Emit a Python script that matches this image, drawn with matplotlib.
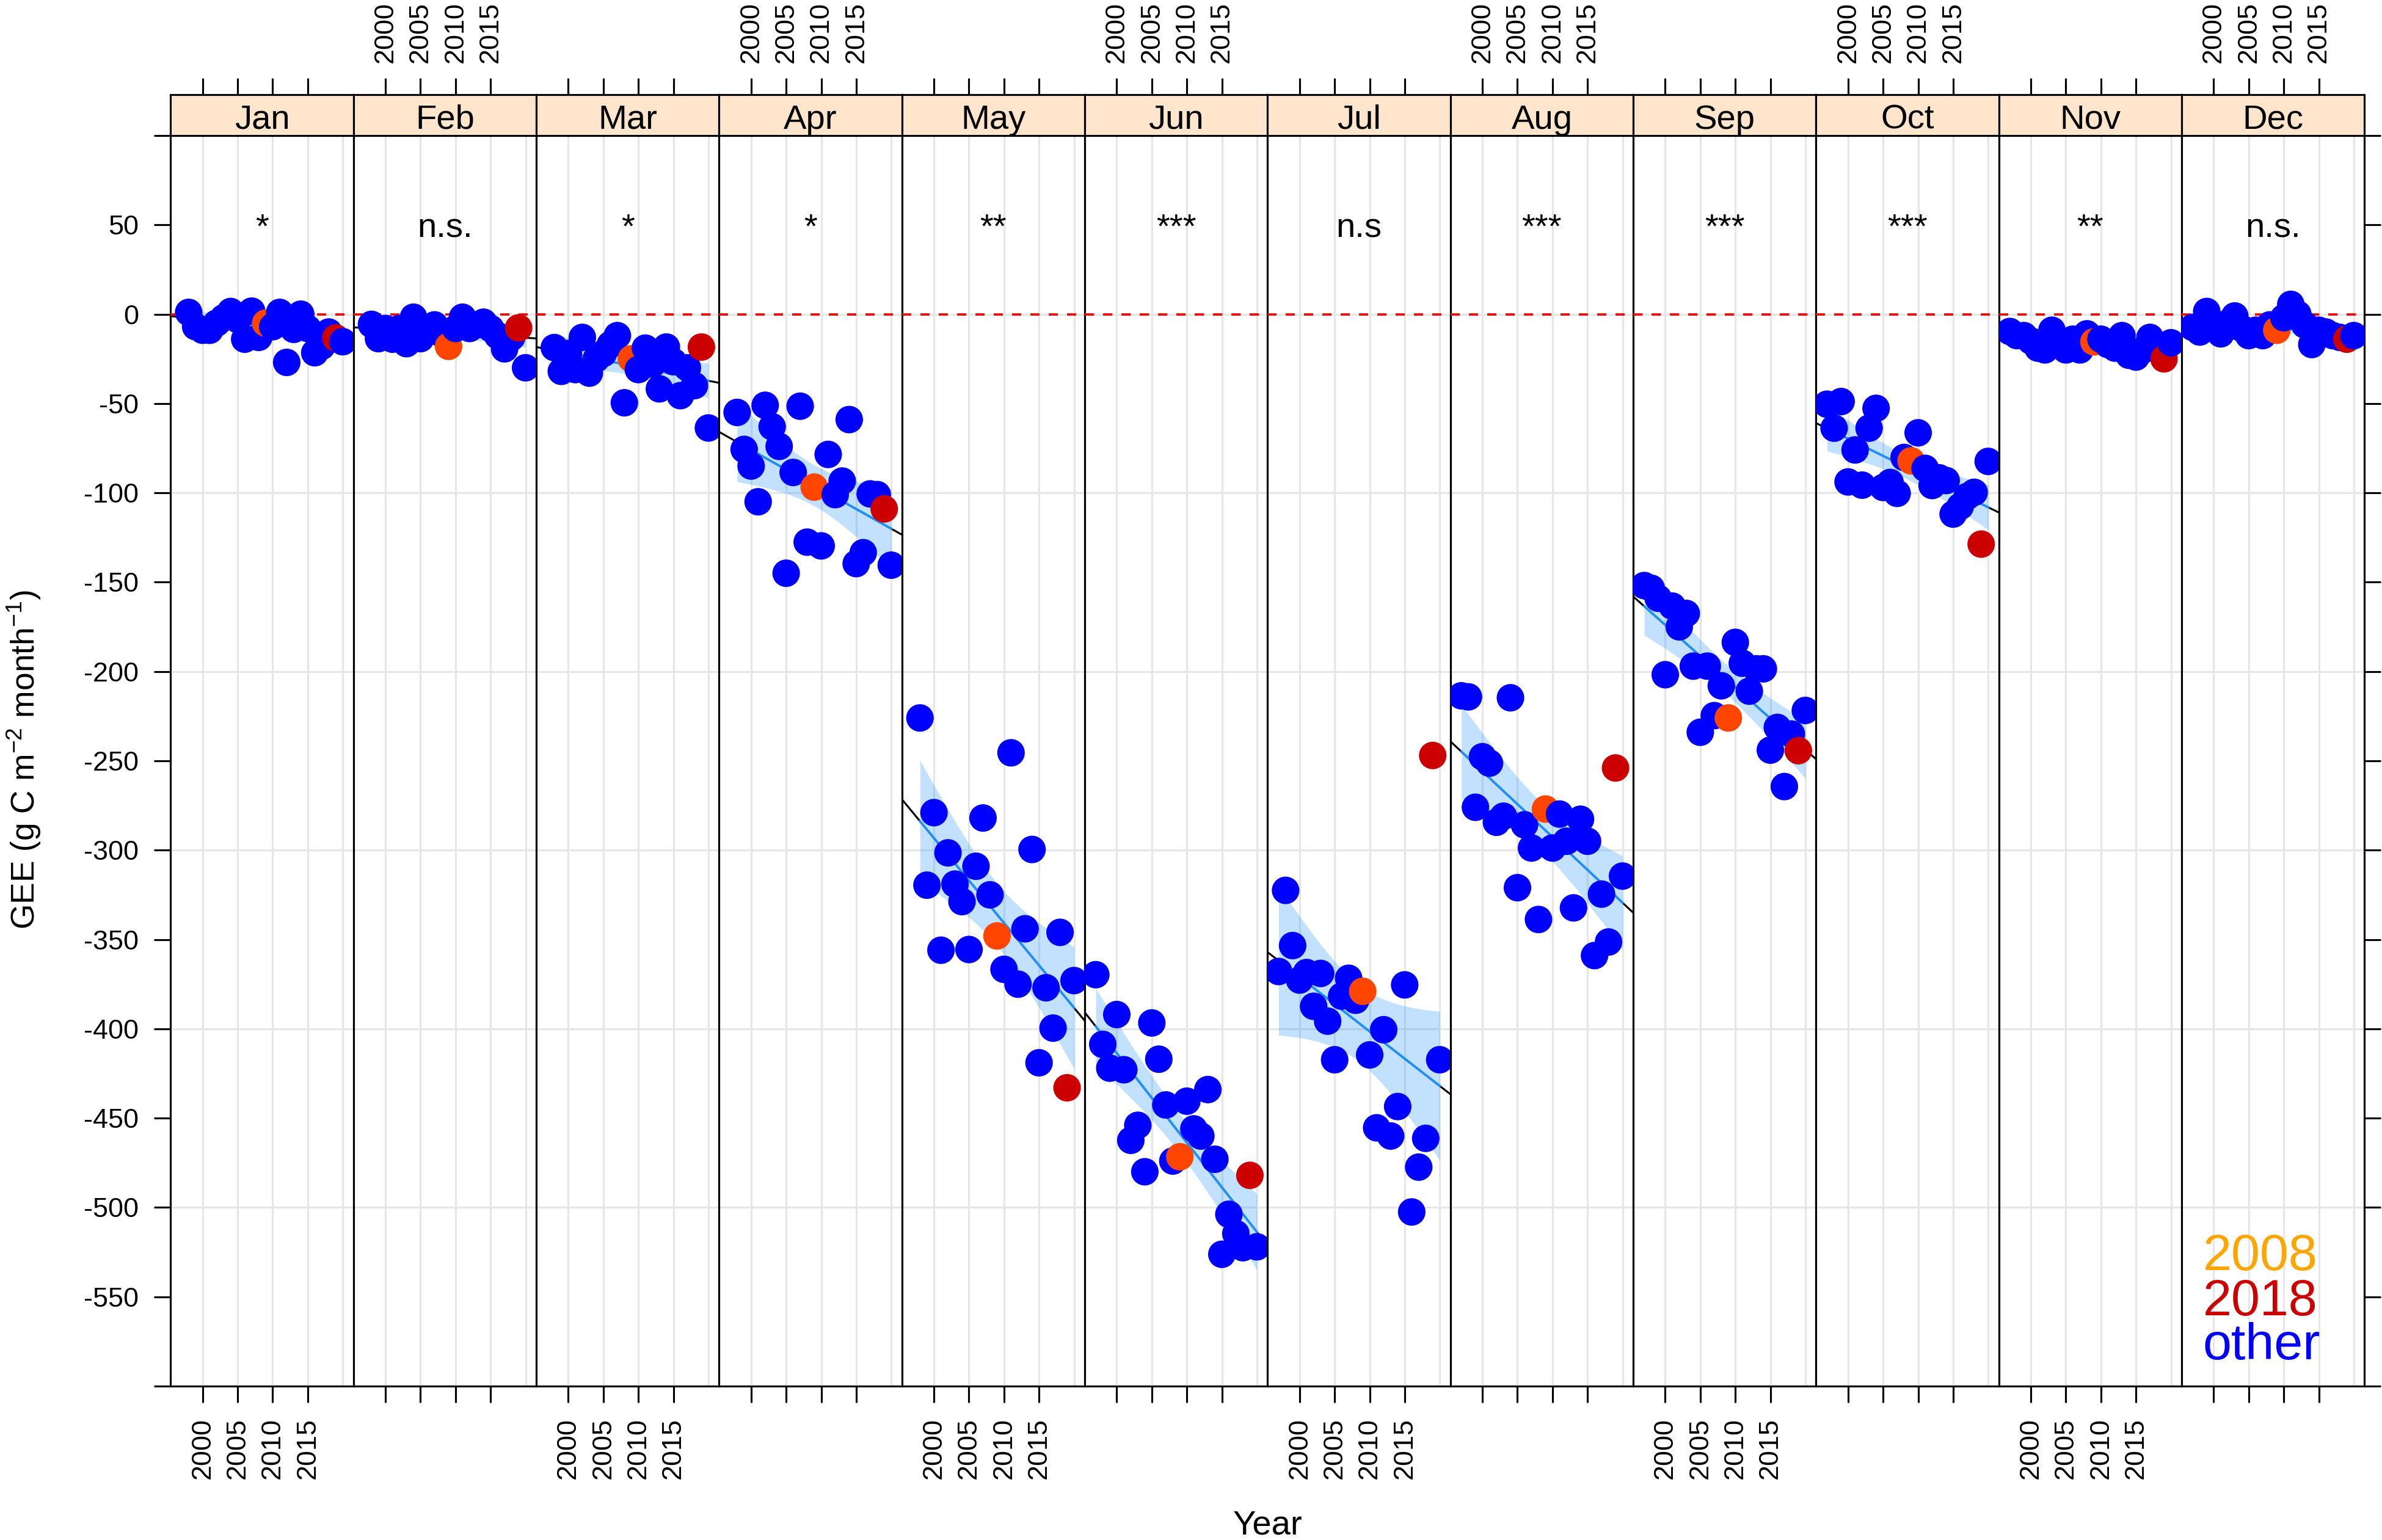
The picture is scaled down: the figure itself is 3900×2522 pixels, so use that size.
import numpy as np
import matplotlib
matplotlib.use("Agg")
import matplotlib.pyplot as plt

plt.rcParams['font.family'] = ['Liberation Sans', 'DejaVu Sans']
plt.rcParams['axes.unicode_minus'] = False
plt.rcParams['mathtext.default'] = 'regular'

############################################
# DATA  (monthly GEE, g C m-2 month-1; last year 2019)
############################################
months = ['Jan', 'Feb', 'Mar', 'Apr', 'May', 'Jun',
          'Jul', 'Aug', 'Sep', 'Oct', 'Nov', 'Dec']
signif = ['*', 'n.s.', '*', '*', '**', '***',
          'n.s', '***', '***', '***', '**', 'n.s.']
last_year = 2019
highlight = {2008: '#FF4500', 2018: '#CC0000'}

# Jan..May start in 1997, Jun..Dec in 1996
gee_jan = [1, -7, -9, -9, -5, -2, 1.5, -3, -14, 1.7, -13, -5, -7, 1, -27,
           -8.5, 0, -8, -21.6, -18, -10, -13.3, -15.4]
gee_feb = [-5.7, -13.7, -8, -14, -8, -16.5, -1.7, -13.7, -9, -6, -11, -18,
           -8, -1.7, -8, -6, -4.5, -8, -12, -19.4, -13, -7.7, -30]
gee_mar = [-18.7, -32, -22, -31, -13, -33, -25, -22, -17, -12, -49.6, -25,
           -31, -19, -28, -41.8, -18.4, -26.6, -45.6, -30, -40, -18.4, -63.7]
gee_apr = [-55, -75.7, -85, -105, -51, -63, -74, -145, -88.6, -51.5, -127.6,
           -96.8, -129.7, -78.5, -101, -93.4, -59, -139.6, -133.5, -100.6,
           -101, -109, -140.5]
gee_may = [-226, -319.6, -279, -356, -301.5, -319, -328.8, -355.6, -309,
           -282, -325, -348, -366.7, -245.5, -375, -344, -299.6, -419, -377,
           -399.6, -346, -433, -373]
gee_jun = [-369.7, -408.7, -422, -392, -422.9, -462.4, -454, -480, -396.7,
           -417, -442.6, -474, -471.6, -440.5, -456, -460, -434, -473, -526.2,
           -503.8, -514.6, -522.5, -482, -522]
gee_jul = [-367.9, -322.5, -353.4, -372.7, -368.5, -387.4, -369, -395.7,
           -417.3, -381.7, -371.7, -384, -379, -414.6, -455.4, -400.5, -460,
           -443.5, -375.4, -502.5, -477.4, -461.3, -247, -417.3]
gee_aug = [-213.6, -214.2, -276, -247.7, -251.3, -284.4, -281, -214.7, -321,
           -285.8, -298.8, -338.8, -277, -298.8, -279.8, -295, -332.3, -282.7,
           -295, -359, -324.6, -351.4, -254, -314.5]
gee_sep = [-151.9, -153.4, -159, -201.8, -163.4, -175, -167.5, -197, -234,
           -197, -224.7, -208, -226, -183.7, -195.4, -211, -198.5, -198.5,
           -244, -231.3, -264.4, -235, -244.3, -221.8]
gee_oct = [-50.4, -63.8, -48.9, -93.9, -76, -95.7, -63.8, -52.7, -97, -94.2,
           -100.3, -80.2, -82.1, -66.4, -86.3, -95.9, -91.6, -93.1, -111.9,
           -107.6, -102, -99.7, -128.7, -82.4]
gee_nov = [-9.7, -12, -12, -15, -19, -20, -9, -15, -20, -14, -20, -11, -15.5,
           -14, -17, -19, -12, -23, -24, -20, -13, -17, -25, -16]
gee_dec = [-7.4, -10, 1.5, -8, -11, -5, -1, -8, -12, -9, -12, -6, -9, -2, 5.5,
           0, -6, -17, -9, -10, -12, -13, -14, -12]

gee_by_month = [gee_jan, gee_feb, gee_mar, gee_apr, gee_may, gee_jun,
                gee_jul, gee_aug, gee_sep, gee_oct, gee_nov, gee_dec]

legend_labels = ['2008', '2018', 'other']
legend_colors = ['#FFA500', '#CC0000', '#0000FF']


############################################
# LINEAR TREND + 95% CONFIDENCE BAND
############################################
def t975(df):
    # Cornish-Fisher expansion of the Student t quantile
    z = 1.959964
    return (z + (z**3 + z) / (4 * df)
            + (5 * z**5 + 16 * z**3 + 3 * z) / (96 * df**2))


def lm_band(x, y):
    n = len(x)
    xm = x.mean()
    sxx = np.sum((x - xm) ** 2)
    b = np.sum((x - xm) * (y - y.mean())) / sxx
    a = y.mean()
    s = np.sqrt(np.sum((y - a - b * (x - xm)) ** 2) / (n - 2))
    grid = np.linspace(x.min(), x.max(), 200)
    fit = a + b * (grid - xm)
    half = t975(n - 2) * s * np.sqrt(1.0 / n + (grid - xm) ** 2 / sxx)
    return xm, a, b, grid, fit - half, fit + half


############################################
# FIGURE
############################################
fig = plt.figure(figsize=(13, 2522 / 300), dpi=300)

X0, X1 = 0.07164, 0.99267
Y0, Y1 = 0.0999, 0.91201
PW = (X1 - X0) / 12
PH = Y1 - Y0
SH = 0.02657
XLIM = (1995.43, 2021.53)
YLIM = (-600, 100)
xt = [2000, 2005, 2010, 2015]
tick_kw = dict(length=6.5, width=0.75, direction='out', labelsize=10.8, pad=6)

for k, (name, vals) in enumerate(zip(months, gee_by_month)):
    vals = np.array(vals, dtype=float)
    years = np.arange(last_year - len(vals) + 1, last_year + 1)
    xpos = years + 1.0   # values are drawn at the end of each year

    ax = fig.add_axes([X0 + k * PW, Y0, PW, PH])
    ax.set_xlim(XLIM)
    ax.set_ylim(YLIM)
    for sp in ax.spines.values():
        sp.set_linewidth(0.75)

    for gx in [2000, 2005, 2010, 2015, 2020]:
        ax.axvline(gx, color='#E6E6E6', lw=0.75, zorder=0)
    for gy in range(-500, 1, 100):
        ax.axhline(gy, color='#E6E6E6', lw=0.75, zorder=0)

    xm, a, b, grid, lo, hi = lm_band(xpos, vals)
    ax.fill_between(grid, lo, hi, color='#1E90FF', alpha=0.27, lw=0, zorder=1)
    xx = np.array(XLIM)
    ax.plot(xx, a + b * (xx - xm), color='black', lw=0.75, zorder=2)
    xr = np.array([xpos.min(), xpos.max()])
    ax.plot(xr, a + b * (xr - xm), color='#1E90FF', lw=0.9, zorder=3)

    ax.axhline(0, color='red', lw=0.9, ls=(0, (4, 4)), zorder=4)

    cols = [highlight.get(yr, '#0000FF') for yr in years]
    ax.scatter(xpos, vals, s=117, c=cols, linewidths=0, zorder=5)

    ax.text(np.mean(XLIM), 43, signif[k], ha='center', va='baseline',
            fontsize=13.5)

    # x axis (bottom): labels on odd-numbered panels
    ax.set_xticks(xt)
    ax.set_xticklabels([str(v) for v in xt])
    ax.tick_params(axis='x', bottom=True, top=False, labelbottom=(k % 2 == 0),
                   labelrotation=90, **tick_kw)

    # y axis: labels on the left of Jan, ticks on the right of Dec
    yt = np.arange(-600, 101, 50)
    ax.set_yticks(yt)
    ax.set_yticklabels(['' if v in (-600, 100) else str(v) for v in yt])
    ax.tick_params(axis='y', left=(k == 0), right=(k == 11),
                   labelleft=(k == 0), labelright=False, **tick_kw)

    # strip with month name, top ticks
    sax = fig.add_axes([X0 + k * PW, Y1, PW, SH])
    sax.set_facecolor('#FFE5CC')
    sax.set_xlim(XLIM)
    sax.set_ylim(0, 1)
    for sp in sax.spines.values():
        sp.set_linewidth(0.75)
    sax.set_yticks([])
    sax.set_xticks(xt)
    sax.set_xticklabels([str(v) for v in xt])
    sax.tick_params(axis='x', bottom=False, top=True, labelbottom=False,
                    labeltop=(k % 2 == 1), labelrotation=90, **tick_kw)
    sax.text(0.5, 0.17, name, transform=sax.transAxes, ha='center',
             va='baseline', fontsize=13.5)

    if k == 11:
        for lab, col, yv in zip(legend_labels, legend_colors, [-535, -560.5, -585]):
            ax.text(XLIM[0] + 0.1156 * (XLIM[1] - XLIM[0]), yv, lab,
                    color=col, fontsize=20.25, ha='left', va='baseline', zorder=6)

fig.text((X0 + X1) / 2, 0.0095, 'Year', ha='center', va='center', fontsize=13.5)
fig.text(0.0100, 0.507, 'GEE (g C m$^{-2}$ month$^{-1}$)', rotation=90,
         ha='center', va='center', fontsize=12.8)

fig.savefig('out.png', dpi=300)
plt.close(fig)
